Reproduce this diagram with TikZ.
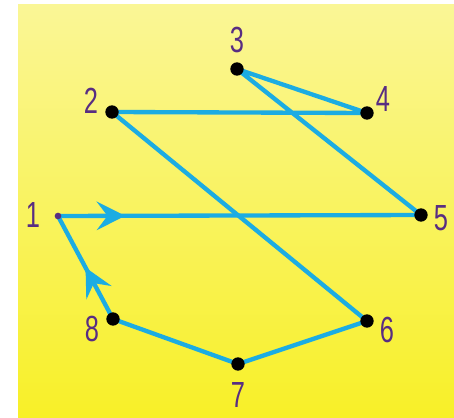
\documentclass[tikz,border=0pt]{standalone}
\usepackage{fontspec}
\newfontfamily\numfont[FakeStretch=0.7]{Liberation Sans}
\usetikzlibrary{arrows.meta,decorations.markings}
\definecolor{wireblue}{RGB}{28,172,226}
\definecolor{numpurple}{RGB}{88,45,130}
\definecolor{paleyellow}{RGB}{250,246,150}
\definecolor{deepyellow}{RGB}{248,240,40}
\tikzset{
  dot/.style={circle,fill=black,inner sep=0pt,minimum size=0.4cm},
  smalldot/.style={circle,fill=numpurple,inner sep=0pt,minimum size=0.2cm},
  num/.style={text=numpurple,font=\numfont\fontsize{31}{31}\selectfont,inner sep=0pt},
  wire/.style={draw=wireblue,line width=0.13cm,line cap=round,line join=round},
  midarrow/.style={postaction={decorate},decoration={markings,
    mark=at position #1 with {\arrow[wireblue]{Stealth[length=0.85cm,width=0.85cm,inset=0.32cm]}}}}
}
\begin{document}
\begin{tikzpicture}[x=0.03cm,y=0.03cm]
\useasboundingbox (0,0) rectangle (454,417);
\shade[top color=paleyellow,bottom color=deepyellow] (18,0) rectangle (454,412);
\coordinate (p1) at (58,201);
\coordinate (p2) at (112,305);
\coordinate (p3) at (237,348);
\coordinate (p4) at (367,304);
\coordinate (p5) at (421,202);
\coordinate (p6) at (367,96);
\coordinate (p7) at (238,53);
\coordinate (p8) at (113,98);
\draw[wire,midarrow=0.185] (p1) -- (p5);
\draw[wire] (p5) -- (p3) -- (p4) -- (p2) -- (p6) -- (p7) -- (p8);
\draw[wire,midarrow=0.5] (p8) -- (p1);
\node[smalldot] (d1) at (p1) {};
\foreach \p in {2,...,8} \node[dot] (d\p) at (p\p) {};
\node[num] (n1) at (33,202) {1};
\node[num] (n2) at (91,316) {2};
\node[num] (n3) at (237,377) {3};
\node[num] (n4) at (383,318) {4};
\node[num] (n5) at (441,199) {5};
\node[num] (n6) at (387,87) {6};
\node[num] (n7) at (238,22) {7};
\node[num] (n8) at (92,88) {8};
\end{tikzpicture}
\end{document}
